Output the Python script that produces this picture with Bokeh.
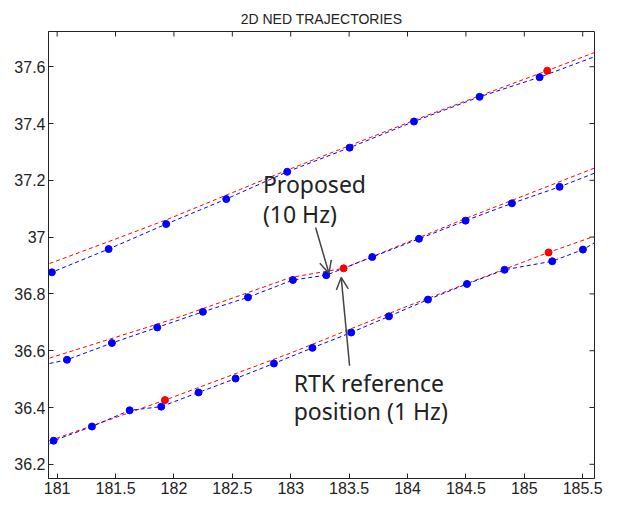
import math
from bokeh.plotting import figure
from bokeh.models import Range1d, FixedTicker, Arrow, OpenHead, Label
from bokeh.embed import file_html
from bokeh.resources import INLINE

# ---------------- data ----------------
title_text = "2D NED TRAJECTORIES"

x_ticks = [181, 181.5, 182, 182.5, 183, 183.5, 184, 184.5, 185, 185.5]
x_tick_labels = ["181", "181.5", "182", "182.5", "183", "183.5", "184", "184.5", "185", "185.5"]
y_ticks = [36.2, 36.4, 36.6, 36.8, 37.0, 37.2, 37.4, 37.6]
y_tick_labels = ["36.2", "36.4", "36.6", "36.8", "37", "37.2", "37.4", "37.6"]

x_limits = (180.926, 185.601)
y_limits = (36.15, 37.724)

# Proposed (10 Hz) marked samples, three passes
prop1_x = [180.955, 181.441, 181.934, 182.448, 182.970, 183.504, 184.055, 184.617, 185.131]
prop1_y = [36.876, 36.958, 37.046, 37.134, 37.230, 37.315, 37.407, 37.494, 37.563]
prop2_x = [181.084, 181.469, 181.857, 182.248, 182.634, 183.019, 183.304, 183.698, 184.098, 184.497, 184.894, 185.302]
prop2_y = [36.568, 36.627, 36.682, 36.737, 36.788, 36.849, 36.866, 36.930, 36.994, 37.058, 37.119, 37.177]
prop3_x = [180.970, 181.298, 181.621, 181.891, 182.211, 182.528, 182.856, 183.186, 183.518, 183.841, 184.175, 184.509, 184.831, 185.239, 185.502]
prop3_y = [36.283, 36.333, 36.390, 36.403, 36.453, 36.502, 36.555, 36.610, 36.664, 36.721, 36.780, 36.835, 36.885, 36.915, 36.956]

# where each proposed trajectory line enters / leaves the axes
prop_start_x = 180.935
prop_end_x = 185.60
prop_start_y = [36.870, 36.555, 36.272]
prop_end_y = [37.635, 37.225, 36.980]

# RTK reference (1 Hz) trajectory vertices
rtk1_x = [180.935, 181.44, 181.93, 182.97, 184.06, 185.196, 185.60]
rtk1_y = [36.907, 36.984, 37.060, 37.236, 37.412, 37.586, 37.650]
rtk2_x = [180.935, 182.0, 183.0, 183.453, 184.5, 185.60]
rtk2_y = [36.574, 36.712, 36.858, 36.890, 37.066, 37.243]
rtk3_x = [180.935, 181.923, 183.0, 184.0, 185.208, 185.60]
rtk3_y = [36.283, 36.426, 36.592, 36.757, 36.946, 37.003]

# visible RTK points
rtk_dot_x = [185.196, 183.453, 181.923, 185.208]
rtk_dot_y = [37.586, 36.890, 36.426, 36.946]

# annotations
ann1_lines = ["Proposed", "(10 Hz)"]
ann1_x = 182.762
ann1_y = [37.186, 37.080]
ann1_arrow = (183.213, 37.034, 183.327, 36.873)
ann2_lines = ["RTK reference", "position (1 Hz)"]
ann2_x = 183.025
ann2_y = [36.488, 36.386]
ann2_arrow = (183.504, 36.547, 183.432, 36.858)

# ---------------- figure ----------------
TICK_FONT = "Liberation Sans"
ANN_FONT = "Noto Sans"
INK = "#222222"

p = figure(frame_width=546, frame_height=447,
           x_range=Range1d(*x_limits), y_range=Range1d(*y_limits),
           output_backend="svg", toolbar_location=None, title=title_text,
           min_border_left=48, min_border_right=13, min_border_top=31, min_border_bottom=22,
           background_fill_color="white", border_fill_color="white")
p.title.align = "center"
p.title.text_font = TICK_FONT
p.title.text_font_style = "normal"
p.title.text_font_size = "14px"
p.title.text_color = INK
p.grid.visible = False
p.outline_line_color = INK
p.outline_line_width = 1


def style_axis(ax, ticks, labels):
    ax.ticker = FixedTicker(ticks=ticks)
    ax.major_label_overrides = {t: l for t, l in zip(ticks, labels)}
    ax.minor_tick_line_color = None
    ax.major_tick_in = 5
    ax.major_tick_out = 0
    ax.axis_line_color = INK
    ax.major_tick_line_color = INK
    ax.major_label_text_font = TICK_FONT
    ax.major_label_text_color = INK
    ax.major_label_text_font_size = "16px"
    ax.major_label_standoff = 3


style_axis(p.xaxis[0], x_ticks, x_tick_labels)
style_axis(p.yaxis[0], y_ticks, y_tick_labels)

# inward ticks on the top and right edges of the box
p.ray(x=x_ticks, y=[y_limits[1]] * len(x_ticks), length=5, length_units="screen",
      angle=-math.pi / 2, line_color=INK, line_width=1)
p.ray(x=[x_limits[1]] * len(y_ticks), y=y_ticks, length=5, length_units="screen",
      angle=math.pi, line_color=INK, line_width=1)

BLUE = "#0000ff"
RED = "#ff0000"

for rx, ry in [(rtk1_x, rtk1_y), (rtk2_x, rtk2_y), (rtk3_x, rtk3_y)]:
    p.line(rx, ry, line_color=RED, line_width=1, line_dash="4 3")

for i, (px, py) in enumerate([(prop1_x, prop1_y), (prop2_x, prop2_y), (prop3_x, prop3_y)]):
    lx = [prop_start_x] + px + [prop_end_x]
    ly = [prop_start_y[i]] + py + [prop_end_y[i]]
    p.line(lx, ly, line_color=BLUE, line_width=1, line_dash="4 3")
    p.scatter(px, py, size=7, fill_color=BLUE, line_color=BLUE)

p.scatter(rtk_dot_x, rtk_dot_y, size=7, fill_color=RED, line_color=RED)

for (x0, y0, x1, y1) in [ann1_arrow, ann2_arrow]:
    p.add_layout(Arrow(end=OpenHead(size=12, line_color="#444444", line_width=1.5),
                       x_start=x0, y_start=y0, x_end=x1, y_end=y1,
                       line_color="#444444", line_width=1.5))

for lines, ax_, ys in [(ann1_lines, ann1_x, ann1_y), (ann2_lines, ann2_x, ann2_y)]:
    for t, yy in zip(lines, ys):
        p.add_layout(Label(x=ax_, y=yy, text=t, text_font=ANN_FONT, text_font_size="23px",
                           text_color=INK, text_baseline="alphabetic", text_align="left"))

open("out.html", "w").write(file_html(p, INLINE))
